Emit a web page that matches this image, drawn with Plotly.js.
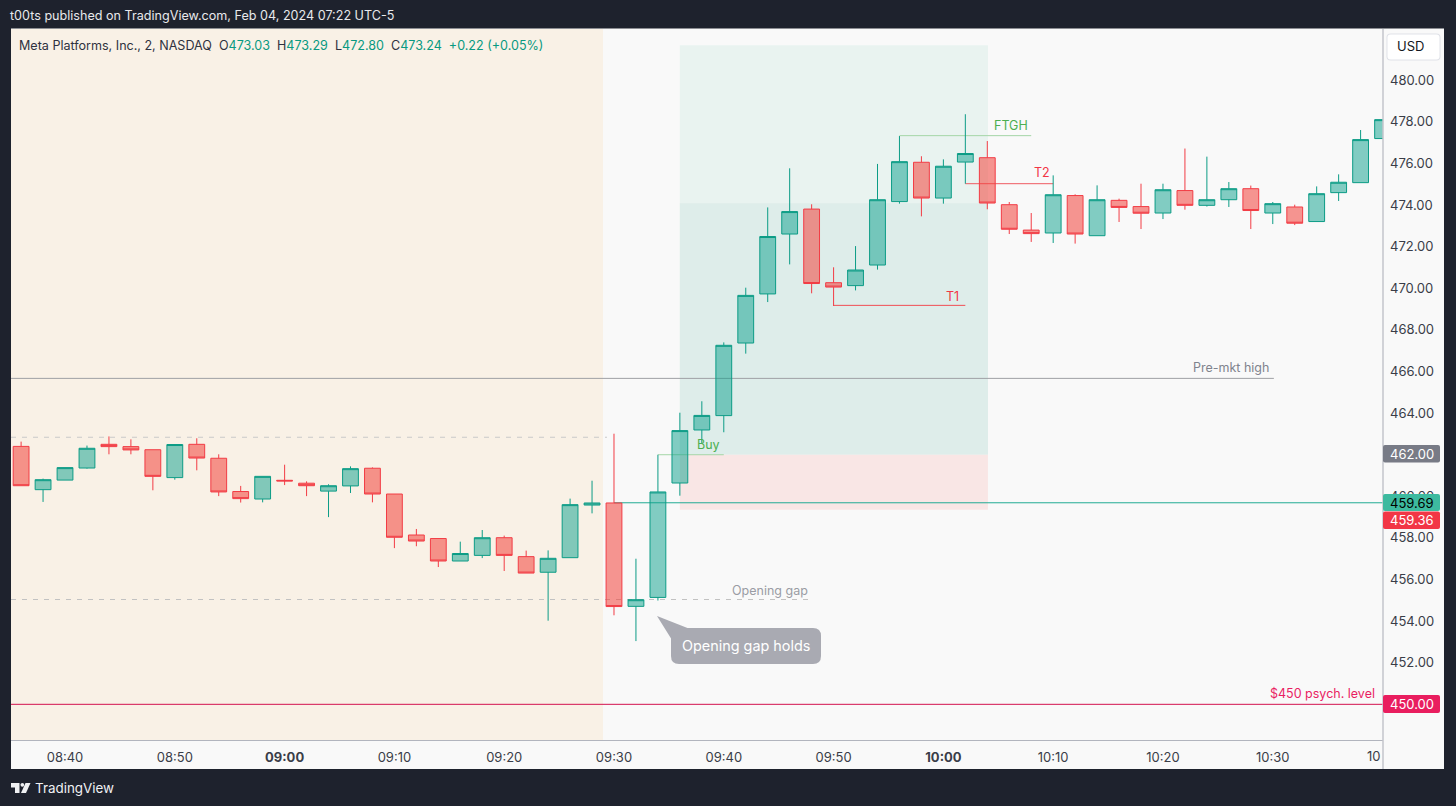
<!DOCTYPE html>
<html>
<head>
<meta charset="utf-8">
<script src="https://cdn.plot.ly/plotly-3.0.1.min.js"></script>
<style>html,body{margin:0;padding:0;background:#1e222d;overflow:hidden}#chart{width:1456px;height:806px}</style>
</head>
<body>
<div id="chart"></div>
<script>
const times = ["08:36","08:38","08:40","08:42","08:44","08:46","08:48","08:50","08:52","08:54","08:56","08:58","09:00","09:02","09:04","09:06","09:08","09:10","09:12","09:14","09:16","09:18","09:20","09:22","09:24","09:26","09:28","09:30","09:32","09:34","09:36","09:38","09:40","09:42","09:44","09:46","09:48","09:50","09:52","09:54","09:56","09:58","10:00","10:02","10:04","10:06","10:08","10:10","10:12","10:14","10:16","10:18","10:20","10:22","10:24","10:26","10:28","10:30","10:32","10:34","10:36","10:38","10:40"];
const opens = [462.40,460.32,460.78,461.36,462.50,462.39,462.24,460.90,462.50,461.83,460.23,459.87,460.77,460.63,460.25,460.50,461.35,460.11,458.14,457.97,456.89,457.16,458.01,457.10,456.35,457.05,459.58,459.68,454.71,455.14,460.64,463.19,463.88,467.37,469.73,472.61,473.81,470.27,470.13,471.12,474.17,476.06,474.34,476.07,476.28,474.02,472.80,472.66,474.46,472.53,474.23,473.93,473.62,474.70,473.99,474.26,474.79,473.62,473.91,473.21,474.60,475.08,477.20];
const highs = [462.63,460.85,461.38,462.44,462.88,462.74,462.24,462.49,462.79,462.02,460.50,460.96,461.52,460.72,460.58,461.44,461.39,460.11,458.43,457.97,457.82,458.38,458.11,457.39,457.40,459.89,460.75,463.01,457.00,462.00,464.02,464.57,467.40,470.03,473.89,475.77,474.04,471.01,472.03,475.98,477.32,476.35,476.20,478.37,477.08,474.15,473.62,475.43,474.52,474.95,474.31,475.03,475.03,476.72,476.33,475.11,474.94,474.15,474.02,474.90,475.48,477.61,478.11];
const lows = [460.51,459.73,460.78,461.33,462.02,462.02,460.29,460.80,461.25,460.01,459.70,459.71,460.54,460.01,459.00,460.16,459.71,457.51,457.60,456.60,456.89,457.03,456.41,456.31,454.02,457.05,459.18,454.28,453.04,454.99,460.03,462.55,463.08,466.86,469.34,471.15,469.76,469.15,469.90,470.90,474.07,473.46,474.07,475.03,473.80,472.61,472.23,472.18,472.15,472.53,473.19,472.85,473.33,473.78,473.93,473.91,472.85,473.09,473.04,473.21,474.20,475.08,477.20];
const closes = [460.51,460.80,461.38,462.31,462.39,462.23,460.96,462.49,461.84,460.21,459.89,460.96,460.74,460.51,460.51,461.33,460.11,458.03,457.85,456.89,457.25,458.01,457.16,456.31,457.02,459.60,459.68,454.70,455.03,460.21,463.16,463.89,467.26,469.66,472.49,473.69,470.23,470.06,470.88,474.26,476.09,474.34,475.87,476.48,474.10,472.84,472.63,474.50,472.61,474.26,473.89,473.61,474.74,473.99,474.26,474.79,473.74,474.07,473.13,474.55,475.10,477.15,478.11];
const timeTicks = ["08:40","08:50","09:00","09:10","09:20","09:30","09:40","09:50","10:00","10:10","10:20","10:30"];
const timeLabels = ["08:40","08:50","<b>09:00</b>","09:10","09:20","09:30","09:40","09:50","<b>10:00</b>","10:10","10:20","10:30"];
const priceTicks = [450,452,454,456,458,460,462,464,466,468,470,472,474,476,478,480];

const L=11,R=1383,T=29,B=740;
const px=x=>(x-L)/(R-L), py=y=>(B-y)/(B-T);
const UP='#0c9c86', DOWN='#f23c45', INK='#3a3d48', FONT='Inter, "Liberation Sans", sans-serif';

function hline(x0,x1,y,color,width,dash){return {type:'line',xref:'x',yref:'y',x0,x1,y0:y,y1:y,line:{color,width,dash:dash||'solid'},layer:'below'};}
function band(x0,x1,y0,y1,color){return {type:'rect',xref:'x',yref:'y',x0,x1,y0,y1,fillcolor:color,line:{width:0},layer:'below'};}
function pxRect(x0,y0,x1,y1,color,layer,lineColor){return {type:'rect',xref:'paper',yref:'paper',x0:px(x0),x1:px(x1),y0:py(y0),y1:py(y1),fillcolor:color,line:{width:lineColor?1:0,color:lineColor||color},layer:layer||'above'};}
function pxPath(points,color,layer){return {type:'path',xref:'paper',yref:'paper',path:points,fillcolor:color,line:{width:0},layer:layer||'above'};}
function pt(x,y){return px(x)+','+py(y);}
function rr(x0,y0,x1,y1,r){return 'M'+pt(x0+r,y0)+' L'+pt(x1-r,y0)+' Q'+pt(x1,y0)+' '+pt(x1,y0+r)+' L'+pt(x1,y1-r)+' Q'+pt(x1,y1)+' '+pt(x1-r,y1)+' L'+pt(x0+r,y1)+' Q'+pt(x0,y1)+' '+pt(x0,y1-r)+' L'+pt(x0,y0+r)+' Q'+pt(x0,y0)+' '+pt(x0+r,y0)+' Z';}
function label(text,x,y,color,size,xanchor,extra){return Object.assign({xref:'paper',yref:'paper',x:px(x),y:py(y),text,showarrow:false,xanchor:xanchor||'left',yanchor:'middle',borderpad:0,font:{family:FONT,size:size||13,color}},extra||{});}

const shapes=[
  pxRect(11,28.5,1444,769,'#f9f9f9','below'),
  band(-0.46,26.5,448,483,'#f9f1e6'),
  band(30,44.03,462,481.68,'#e9f3f0'),
  band(30,44.03,462,474.09,'#deedea'),
  band(30,44.03,459.36,462,'#f9e6e5'),
  hline(-0.46,26.68,462.84,'#c9c9c9',1,'5px,6px'),
  hline(-0.46,36,455.04,'#c2c2c2',1,'5px,6px'),
  hline(-0.46,57.05,465.67,'#9fa0a4',1),
  hline(27,63,459.69,'#22ab94',1),
  hline(-0.46,63,450,'#d3124f',1),
  hline(29,32,462,'#a5d6a7',1),
  hline(40,46,477.34,'#a5d6a7',1),
  hline(37,43,469.18,'#f04e55',1),
  hline(43,47,475.03,'#ef5b62',1),
  {type:'line',xref:'paper',yref:'paper',x0:1,x1:1,y0:py(769),y1:1,line:{color:'#c3c4cb',width:1.5},layer:'above'},
  pxPath('M'+pt(657,616)+' L'+pt(690,629)+' L'+pt(672,640)+' Z','#a9aab2'),
  pxPath(rr(671,628,821,664,8),'#a9aab2'),
  pxPath(rr(1383,445,1440,462.6,2),'#787b86'),
  pxPath(rr(1383,494,1440,511,2),'#3dba9f'),
  pxPath(rr(1383,511.5,1440,529,2),'#f23645'),
  pxPath(rr(1383,695,1440,713,2),'#e91e5f'),
  pxPath(rr(1386.5,33.5,1440.5,60.5,4),'#e0e2e8'),
  pxPath(rr(1387.5,34.5,1439.5,59.5,3),'#ffffff'),
  pxPath('M'+pt(11,783)+' L'+pt(19.5,783)+' L'+pt(19.5,793)+' L'+pt(15,793)+' L'+pt(15,787.5)+' L'+pt(11,787.5)+' Z','#f0f1f3'),
  {type:'circle',xref:'paper',yref:'paper',x0:px(20.5),x1:px(24.2),y0:py(783),y1:py(786.7),fillcolor:'#f0f1f3',line:{width:0},layer:'above'},
  pxPath('M'+pt(25.5,783)+' L'+pt(30.5,783)+' L'+pt(26,793)+' L'+pt(21,793)+' Z','#f0f1f3')
];

const teal=s=>'<span style="color:#089981">'+s+'</span>';
const annotations=[
  label('t00ts published on TradingView.com, Feb 04, 2024 07:22 UTC-5',9,15,'#e8e9ec',12.6),
  label('Meta Platforms, Inc., 2, NASDAQ  O'+teal('473.03')+'  H'+teal('473.29')+'  L'+teal('472.80')+'  C'+teal('473.24')+'  '+teal('+0.22 (+0.05%)'),18,45,'#2f3240',12.55),
  label('USD',1410,46,'#131722',13,'center',{}),
  label('Pre-mkt high',1270,368,'#80838d',12.5,'right'),
  label('Opening gap',770,590,'#9a9ca4',12.5,'center'),
  label('Buy',696,444,'#4caf50',12.5),
  label('FTGH',993,126,'#4caf50',12.5),
  label('T1',945,296,'#f23645',12.5),
  label('T2',1033,173,'#f23645',12.5),
  label('$450 psych. level',1376,693.5,'#e91e63',12.5,'right'),
  label('Opening gap holds',746,646,'#ffffff',14.4,'center'),
  label('462.00',1412,454,'#ffffff',13,'center'),
  label('459.69',1412,502.5,'#000000',13,'center'),
  label('459.36',1412,520,'#ffffff',13,'center'),
  label('450.00',1412,704,'#ffffff',13,'center'),
  label('10',1382,756,INK,13,'right'),
  label('TradingView',34,788,'#f0f1f3',13.4)
];

Plotly.newPlot('chart',[{
  type:'candlestick',x:times,open:opens,high:highs,low:lows,close:closes,
  increasing:{line:{color:UP,width:1},fillcolor:'rgba(10,160,140,0.5)'},
  decreasing:{line:{color:DOWN,width:1},fillcolor:'rgba(243,66,58,0.55)'},
  whiskerwidth:0,showlegend:false,hoverinfo:'skip'
}],{
  width:1456,height:806,
  margin:{l:L,r:1456-R,t:T,b:806-B,pad:0},
  paper_bgcolor:'#1e222d',plot_bgcolor:'#f9f9f9',
  boxgap:0.28,boxgroupgap:0,hovermode:false,dragmode:false,showlegend:false,
  xaxis:{type:'category',categoryorder:'array',categoryarray:times,range:[-0.46,62.02],rangeslider:{visible:false},
    tickmode:'array',tickvals:timeTicks,ticktext:timeLabels,showgrid:false,zeroline:false,
    showline:true,linecolor:'#b2b5be',linewidth:1,ticks:'',ticklabelstandoff:5,
    tickfont:{family:FONT,size:13,color:INK}},
  yaxis:{side:'right',range:[448.2845,482.4672],tickmode:'array',tickvals:priceTicks,tickformat:'.2f',
    showgrid:false,zeroline:false,showline:false,ticks:'',ticklabelstandoff:6,
    tickfont:{family:FONT,size:13,color:INK}},
  shapes,annotations
},{displayModeBar:false,responsive:false});
</script>
</body>
</html>
